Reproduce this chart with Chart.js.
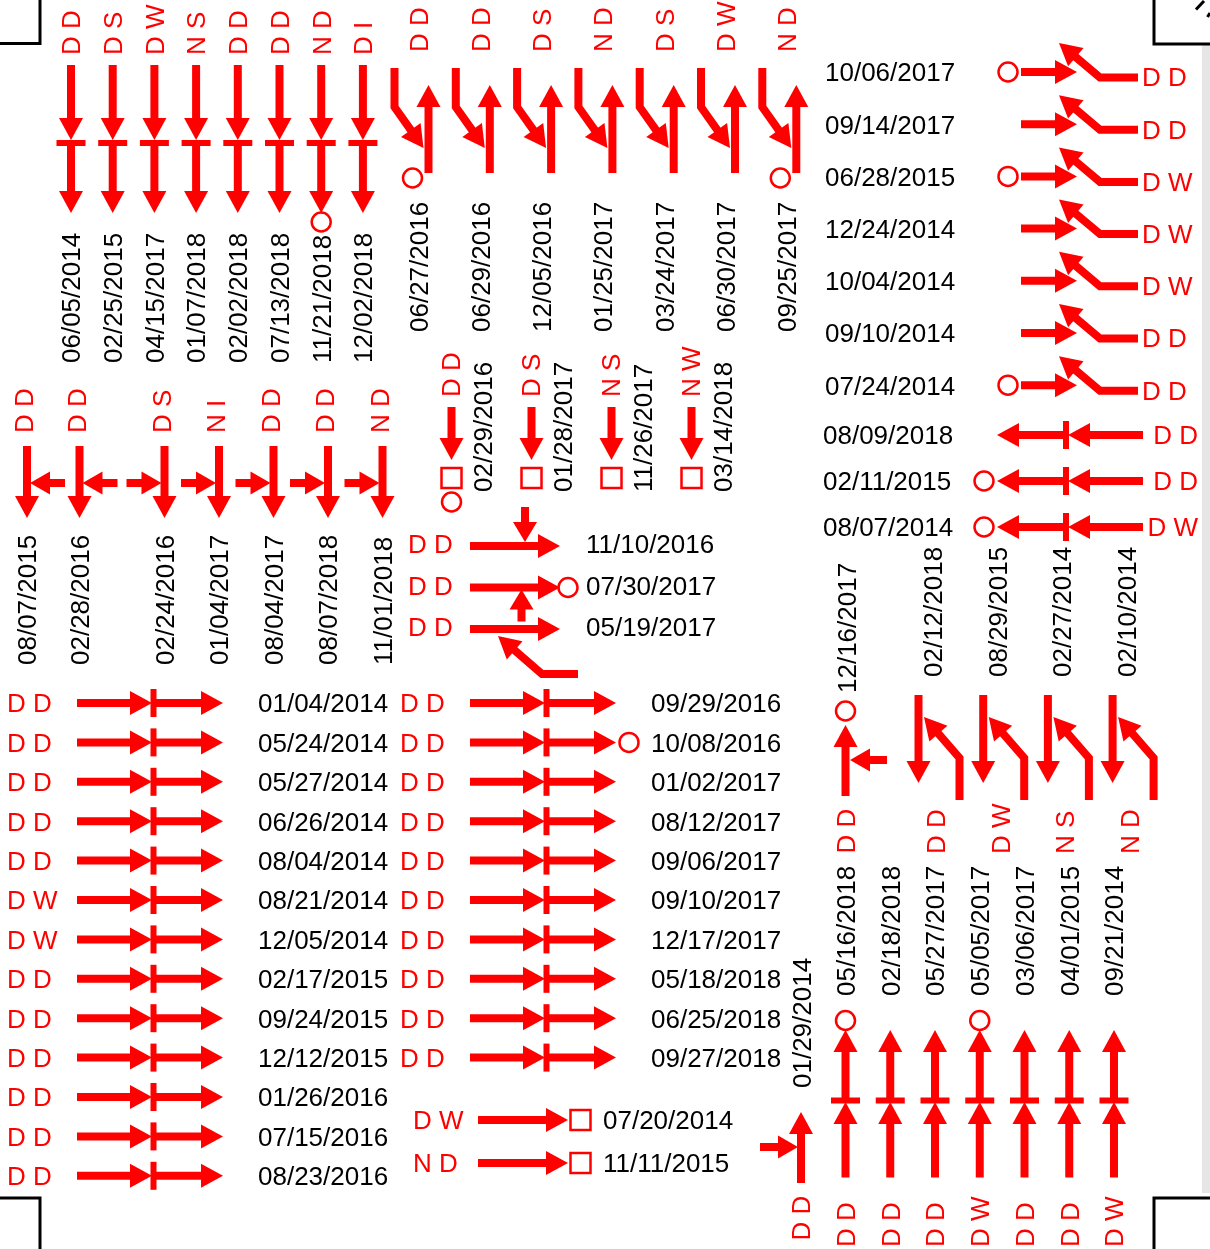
<!DOCTYPE html>
<html>
<head>
<meta charset="utf-8">
<script src="https://cdn.jsdelivr.net/npm/chart.js@4.4.1/dist/chart.umd.min.js"></script>
<style>
html,body{margin:0;padding:0;background:#fff;overflow:hidden}
canvas{display:block}
</style>
</head>
<body>
<canvas id="c" width="1210" height="1249"></canvas>
<script>
// ---------------- DATA ----------------
// Southbound rear-end (top-left)
const rearSouthDates = ['06/05/2014','02/25/2015','04/15/2017','01/07/2018','02/02/2018','07/13/2018','11/21/2018','12/02/2018'];
const rearSouthCodes = ['D D','D S','D W','N S','D D','D D','N D','D I'];
const rearSouthMarks = ['','','','','','','circle',''];
// Southbound left turn vs opposing (top-middle)
const turnSouthDates = ['06/27/2016','06/29/2016','12/05/2016','01/25/2017','03/24/2017','06/30/2017','09/25/2017'];
const turnSouthCodes = ['D D','D D','D S','N D','D S','D W','N D'];
const turnSouthMarks = ['circle','','','','','','circle'];
// Westbound left turn vs eastbound (top-right)
const turnWestDates = ['10/06/2017','09/14/2017','06/28/2015','12/24/2014','10/04/2014','09/10/2014','07/24/2014'];
const turnWestCodes = ['D D','D D','D W','D W','D W','D D','D D'];
const turnWestMarks = ['circle','','circle','','','','circle'];
// Westbound rear-end
const rearWestDates = ['08/09/2018','02/11/2015','08/07/2014'];
const rearWestCodes = ['D D','D D','D W'];
const rearWestMarks = ['','circle','circle'];
// Southbound angle, side vehicle from east
const angleSouthEDates = ['08/07/2015','02/28/2016'];
const angleSouthECodes = ['D D','D D'];
// Southbound angle, side vehicle from west
const angleSouthWDates = ['02/24/2016','01/04/2017','08/04/2017','08/07/2018','11/01/2018'];
const angleSouthWCodes = ['D S','N I','D D','D D','N D'];
// Southbound fixed object
const fixedSouthDates = ['02/29/2016','01/28/2017','11/26/2017','03/14/2018'];
const fixedSouthCodes = ['D D','D S','N S','N W'];
const fixedSouthMarks = ['circle','','',''];
// Eastbound angle
const angleEastDates = ['11/10/2016','07/30/2017','05/19/2017'];
const angleEastCodes = ['D D','D D','D D'];
const angleEastSides = ['north','south','southeast'];
const angleEastMarks = ['','circle',''];
// Eastbound rear-end (two columns)
const rearEastDatesA = ['01/04/2014','05/24/2014','05/27/2014','06/26/2014','08/04/2014','08/21/2014','12/05/2014','02/17/2015','09/24/2015','12/12/2015','01/26/2016','07/15/2016','08/23/2016'];
const rearEastCodesA = ['D D','D D','D D','D D','D D','D W','D W','D D','D D','D D','D D','D D','D D'];
const rearEastDatesB = ['09/29/2016','10/08/2016','01/02/2017','08/12/2017','09/06/2017','09/10/2017','12/17/2017','05/18/2018','06/25/2018','09/27/2018'];
const rearEastCodesB = ['D D','D D','D D','D D','D D','D D','D D','D D','D D','D D'];
const rearEastMarksB = ['','circle','','','','','','','',''];
// Eastbound fixed object
const fixedEastDates = ['07/20/2014','11/11/2015'];
const fixedEastCodes = ['D W','N D'];
// Northbound rear-end
const rearNorthDates = ['05/16/2018','02/18/2018','05/27/2017','05/05/2017','03/06/2017','04/01/2015','09/21/2014'];
const rearNorthCodes = ['D D','D D','D D','D W','D D','D D','D W'];
const rearNorthMarks = ['circle','','','circle','','',''];
// Northbound angle
const angleNorthWDates = ['01/29/2014'];
const angleNorthWCodes = ['D D'];
const angleNorthEDates = ['12/16/2017'];
const angleNorthECodes = ['D D'];
const angleNorthEMarks = ['circle'];
// Northbound left turn vs southbound
const turnNorthDates = ['02/12/2018','08/29/2015','02/27/2014','02/10/2014'];
const turnNorthCodes = ['D D','D W','N S','N D'];

// ---------------- LAYOUT (group anchors, separate from data) ----------------
const groups = [
  {glyph:'rearSouth',  dates:rearSouthDates,  codes:rearSouthCodes,  marks:rearSouthMarks,  lay:{x0:71,    dx:41.7,  y0:143,   dy:0}},
  {glyph:'turnSouth',  dates:turnSouthDates,  codes:turnSouthCodes,  marks:turnSouthMarks,  lay:{x0:428.5, dx:61.3,  y0:173,   dy:0}},
  {glyph:'turnWest',   dates:turnWestDates,   codes:turnWestCodes,   marks:turnWestMarks,   lay:{x0:1021,  dx:0,     y0:72,    dy:52.2}},
  {glyph:'rearWest',   dates:rearWestDates,   codes:rearWestCodes,   marks:rearWestMarks,   lay:{x0:1066,  dx:0,     y0:435,   dy:46}},
  {glyph:'angleSouth', side:'east', dates:angleSouthEDates, codes:angleSouthECodes, lay:{x0:27, dx:52.5, y0:483, dy:0}},
  {glyph:'angleSouth', side:'west', dates:angleSouthWDates, codes:angleSouthWCodes, lay:{x0:164.5, dx:54.5, y0:483, dy:0}},
  {glyph:'fixedSouth', dates:fixedSouthDates, codes:fixedSouthCodes, marks:fixedSouthMarks, lay:{x0:451.5, dx:80,    y0:478,   dy:0}},
  {glyph:'angleEast',  dates:angleEastDates,  codes:angleEastCodes,  marks:angleEastMarks, sides:angleEastSides, lay:{x0:470, dx:0, y0:546, dy:41.5}},
  {glyph:'rearEast',   dates:rearEastDatesA,  codes:rearEastCodesA,  lay:{x0:77,  dx:0, y0:703, dy:39.4}},
  {glyph:'rearEast',   dates:rearEastDatesB,  codes:rearEastCodesB,  marks:rearEastMarksB, lay:{x0:470, dx:0, y0:703, dy:39.4}},
  {glyph:'fixedEast',  dates:fixedEastDates,  codes:fixedEastCodes,  lay:{x0:478, dx:0, y0:1120, dy:43}},
  {glyph:'rearNorth',  dates:rearNorthDates,  codes:rearNorthCodes,  marks:rearNorthMarks,  lay:{x0:845.5, dx:44.75, y0:1100.5, dy:0}},
  {glyph:'angleNorth', side:'west', dates:angleNorthWDates, codes:angleNorthWCodes, lay:{x0:801, dx:0, y0:1147, dy:0}},
  {glyph:'angleNorth', side:'east', dates:angleNorthEDates, codes:angleNorthECodes, marks:angleNorthEMarks, lay:{x0:845.5, dx:0, y0:760, dy:0}},
  {glyph:'turnNorth',  dates:turnNorthDates,  codes:turnNorthCodes,  lay:{x0:918.5, dx:64.7, y0:760, dy:0}}
];

// ---------------- STYLE / DRAWING ----------------
const RED = '#ff0000';
const BLACK = '#000000';
const FONT = '26px "Liberation Sans", Arial, Helvetica, sans-serif';
const CAP = 9.3;
const SHAFT = 8;

function arrow(ctx, pts, len, wid) {
  len = len || 22; wid = wid || 24;
  const n = pts.length;
  const tip = pts[n-1], prev = pts[n-2];
  let ux = tip[0]-prev[0], uy = tip[1]-prev[1];
  const d = Math.hypot(ux, uy); ux /= d; uy /= d;
  const bx = tip[0]-ux*len, by = tip[1]-uy*len;
  ctx.save();
  ctx.strokeStyle = RED; ctx.fillStyle = RED;
  ctx.lineWidth = SHAFT; ctx.lineCap = 'butt'; ctx.lineJoin = 'miter';
  ctx.beginPath();
  ctx.moveTo(pts[0][0], pts[0][1]);
  for (let i = 1; i < n-1; i++) ctx.lineTo(pts[i][0], pts[i][1]);
  ctx.lineTo(bx+ux*2, by+uy*2);
  ctx.stroke();
  const px = -uy, py = ux;
  ctx.beginPath();
  ctx.moveTo(tip[0], tip[1]);
  ctx.lineTo(bx+px*wid/2, by+py*wid/2);
  ctx.lineTo(bx-px*wid/2, by-py*wid/2);
  ctx.closePath();
  ctx.fill();
  ctx.restore();
}
function bar(ctx, cx, cy, horizontal) {
  ctx.fillStyle = RED;
  if (horizontal) ctx.fillRect(cx-14.5, cy-3, 29, 6);
  else ctx.fillRect(cx-3, cy-14, 6, 28);
}
function circle(ctx, cx, cy) {
  ctx.save();
  ctx.strokeStyle = RED; ctx.lineWidth = 2.5;
  ctx.beginPath(); ctx.arc(cx, cy, 9.5, 0, Math.PI*2); ctx.stroke();
  ctx.restore();
}
function square(ctx, cx, cy) {
  ctx.save();
  ctx.strokeStyle = RED; ctx.lineWidth = 2.5;
  ctx.strokeRect(cx-10, cy-10, 20, 20);
  ctx.restore();
}
function text(ctx, s, x, y, color, align) {
  ctx.save();
  ctx.font = FONT; ctx.fillStyle = color || BLACK;
  ctx.textAlign = align || 'left'; ctx.textBaseline = 'alphabetic';
  ctx.fillText(s, x, y+CAP);
  ctx.restore();
}
function rtext(ctx, s, x, y, color) {
  ctx.save();
  ctx.font = FONT; ctx.fillStyle = color || BLACK;
  ctx.translate(x, y); ctx.rotate(-Math.PI/2);
  ctx.textAlign = 'left'; ctx.textBaseline = 'alphabetic';
  ctx.fillText(s, 0, CAP);
  ctx.restore();
}

const GLYPHS = {
  rearSouth(ctx, x, y, r) {
    arrow(ctx, [[x,y-78],[x,y-3]]);
    bar(ctx, x, y, true);
    arrow(ctx, [[x,y+3],[x,y+70]]);
    if (r.mark === 'circle') circle(ctx, x, y+79);
    rtext(ctx, r.code, x, y-88, RED);
    rtext(ctx, r.date, x, y+220);
  },
  turnSouth(ctx, x, y, r) {
    arrow(ctx, [[x,y],[x,y-88]]);
    arrow(ctx, [[x-34,y-105],[x-34,y-66],[x-5,y-25]]);
    if (r.mark === 'circle') circle(ctx, x-16, y+5);
    rtext(ctx, r.code, x-9.5, y-121, RED);
    rtext(ctx, r.date, x-9.5, y+159);
  },
  turnWest(ctx, x, y, r) {
    text(ctx, r.date, x-196, y);
    if (r.mark === 'circle') circle(ctx, x-13, y);
    arrow(ctx, [[x,y],[x+56,y]]);
    arrow(ctx, [[x+117,y+5.5],[x+79,y+5.5],[x+38,y-29]]);
    text(ctx, r.code, x+121, y+5, RED);
  },
  rearWest(ctx, x, y, r) {
    arrow(ctx, [[x+77,y],[x+2,y]]);
    bar(ctx, x, y, false);
    arrow(ctx, [[x-2,y],[x-69,y]]);
    if (r.mark === 'circle') circle(ctx, x-82, y);
    text(ctx, r.code, x+132, y, RED, 'right');
    text(ctx, r.date, x-243, y);
  },
  angleSouth(ctx, x, y, r) {
    arrow(ctx, [[x,y-37],[x,y+35]]);
    if (r.side === 'east') arrow(ctx, [[x+38,y],[x+3,y]], 20, 23);
    else arrow(ctx, [[x-38,y],[x-3,y]], 20, 23);
    rtext(ctx, r.code, x-3, y-50, RED);
    rtext(ctx, r.date, x, y+182);
  },
  fixedSouth(ctx, x, y, r) {
    arrow(ctx, [[x,y-71],[x,y-18]]);
    square(ctx, x, y);
    if (r.mark === 'circle') circle(ctx, x, y+24);
    rtext(ctx, r.code, x-1, y-81, RED);
    rtext(ctx, r.date, x+31.5, y+14);
  },
  angleEast(ctx, x, y, r) {
    arrow(ctx, [[x,y],[x+90,y]]);
    if (r.side === 'north') arrow(ctx, [[x+55,y-39],[x+55,y-4]], 20, 24);
    else if (r.side === 'south') arrow(ctx, [[x+51.5,y+34],[x+51.5,y+2]], 20, 24);
    else arrow(ctx, [[x+108,y+45],[x+72,y+45],[x+28,y+7]]);
    if (r.mark === 'circle') circle(ctx, x+98, y);
    text(ctx, r.code, x-62, y-2, RED);
    text(ctx, r.date, x+116, y-2);
  },
  rearEast(ctx, x, y, r) {
    arrow(ctx, [[x,y],[x+75,y]]);
    bar(ctx, x+76.5, y, false);
    arrow(ctx, [[x+78,y],[x+146,y]]);
    if (r.mark === 'circle') circle(ctx, x+159, y);
    text(ctx, r.code, x-70, y, RED);
    text(ctx, r.date, x+181, y);
  },
  fixedEast(ctx, x, y, r) {
    arrow(ctx, [[x,y],[x+90,y]]);
    square(ctx, x+102.5, y);
    text(ctx, r.code, x-65, y, RED);
    text(ctx, r.date, x+125, y);
  },
  rearNorth(ctx, x, y, r) {
    arrow(ctx, [[x,y+77],[x,y+1.5]]);
    bar(ctx, x, y, true);
    arrow(ctx, [[x,y-2],[x,y-70.5]]);
    if (r.mark === 'circle') circle(ctx, x, y-80);
    rtext(ctx, r.date, x, y-104.5);
    rtext(ctx, r.code, x, y+146.5, RED);
  },
  angleNorth(ctx, x, y, r) {
    arrow(ctx, [[x,y+36],[x,y-35]]);
    if (r.side === 'west') arrow(ctx, [[x-41,y],[x-3,y]], 20, 23);
    else arrow(ctx, [[x+41.5,y],[x+4.5,y]], 20, 23);
    if (r.mark === 'circle') circle(ctx, x, y-49);
    rtext(ctx, r.date, x+1, y-(r.mark === 'circle' ? 67 : 59));
    rtext(ctx, r.code, x, y+93.5, RED);
  },
  turnNorth(ctx, x, y, r) {
    arrow(ctx, [[x,y-65],[x,y+23]]);
    arrow(ctx, [[x+41,y+40],[x+41,y-2],[x+5.5,y-43]]);
    rtext(ctx, r.date, x+14, y-83);
    rtext(ctx, r.code, x+17, y+94, RED);
  }
};

const framePlugin = {
  id: 'frame',
  beforeDraw(chart) {
    const ctx = chart.ctx;
    ctx.save();
    ctx.fillStyle = '#ffffff';
    ctx.fillRect(0, 0, chart.width, chart.height);
    ctx.fillStyle = '#e6e6e6';
    ctx.fillRect(1202, 45, 8, 1148);
    ctx.strokeStyle = '#000'; ctx.lineWidth = 3; ctx.lineCap = 'butt';
    ctx.beginPath();
    ctx.moveTo(40, 0); ctx.lineTo(40, 43.5); ctx.lineTo(0, 43.5);
    ctx.moveTo(1154, 0); ctx.lineTo(1154, 44); ctx.lineTo(1210, 44);
    ctx.moveTo(0, 1198); ctx.lineTo(40, 1198); ctx.lineTo(40, 1249);
    ctx.moveTo(1210, 1198); ctx.lineTo(1154, 1198); ctx.lineTo(1154, 1249);
    ctx.moveTo(1196, 9.5); ctx.lineTo(1204, 1);
    ctx.moveTo(1207.5, 17); ctx.lineTo(1210, 13);
    ctx.stroke();
    ctx.restore();
  }
};

const glyphPlugin = {
  id: 'glyphs',
  afterDatasetsDraw(chart) {
    const ctx = chart.ctx;
    groups.forEach((g, di) => {
      const meta = chart.getDatasetMeta(di);
      meta.data.forEach((el, i) => {
        const rec = {
          date: g.dates[i],
          code: g.codes[i],
          mark: g.marks ? g.marks[i] : '',
          side: g.sides ? g.sides[i] : g.side
        };
        GLYPHS[g.glyph](ctx, el.x, el.y, rec);
      });
    });
  }
};

const datasets = groups.map((g, k) => ({
  label: g.glyph + k,
  data: g.dates.map((d, i) => ({x: g.lay.x0 + i*g.lay.dx, y: g.lay.y0 + i*g.lay.dy})),
  pointRadius: 0,
  pointHoverRadius: 0,
  showLine: false
}));

new Chart(document.getElementById('c'), {
  type: 'scatter',
  data: { datasets },
  options: {
    responsive: false,
    maintainAspectRatio: false,
    devicePixelRatio: 1,
    animation: false,
    events: [],
    layout: { padding: 0 },
    plugins: { legend: { display: false }, tooltip: { enabled: false }, title: { display: false } },
    scales: {
      x: { type: 'linear', min: 0, max: 1210, display: false },
      y: { type: 'linear', min: 0, max: 1249, reverse: true, display: false }
    }
  },
  plugins: [framePlugin, glyphPlugin]
});
</script>
</body>
</html>
